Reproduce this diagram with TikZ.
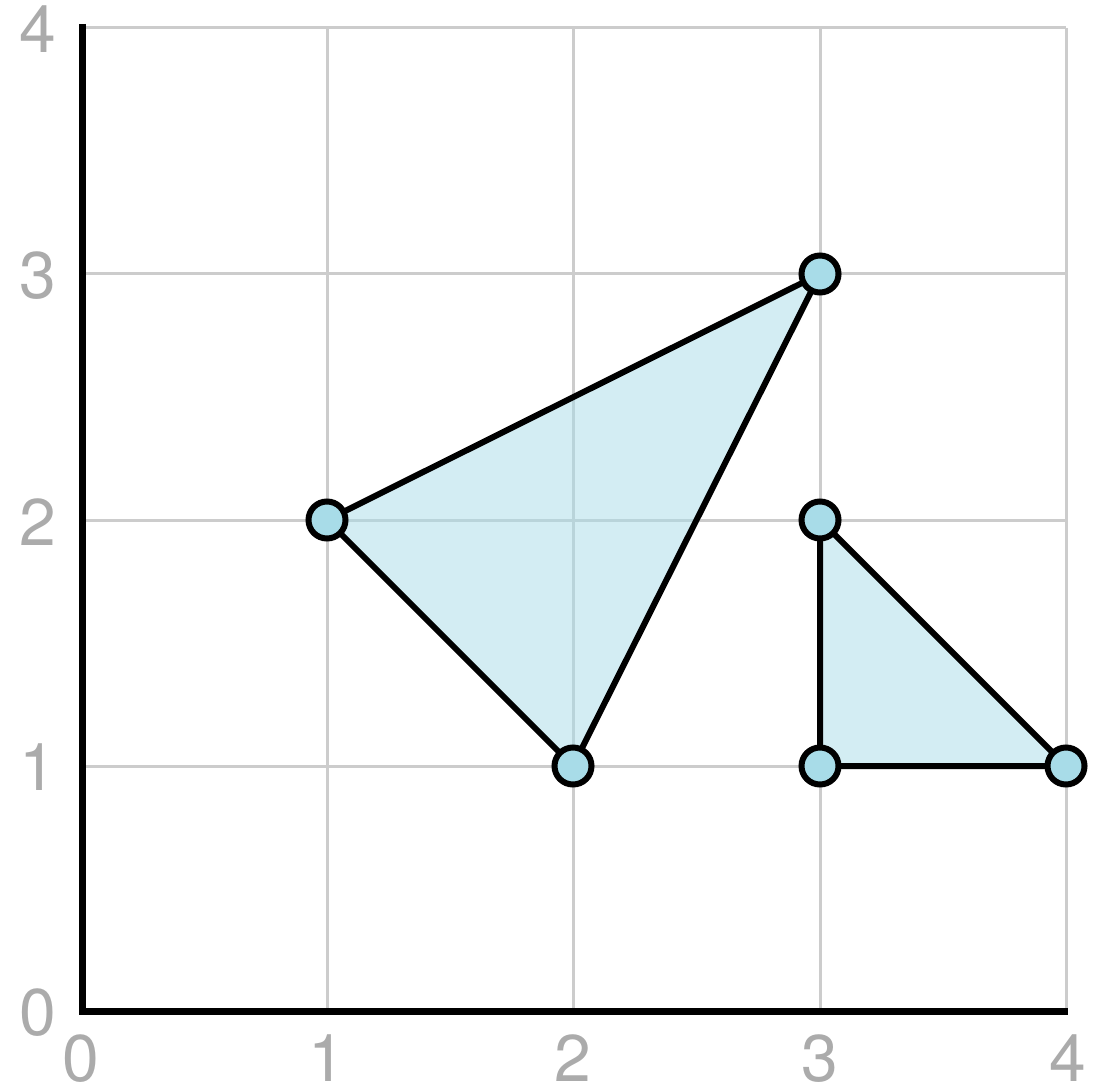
\documentclass[tikz,border=0pt]{standalone}
\usepackage{fontspec}
\setmainfont{TeX Gyre Heros}
\definecolor{gridgray}{HTML}{CCCCCC}
\definecolor{labgray}{HTML}{ABABAB}
\definecolor{vfill}{HTML}{A8DCE8}
\begin{document}
\begin{tikzpicture}[x=0.5pt,y=-0.5pt,
  gridline/.style={draw=gridgray,line width=1.5pt},
  axisline/.style={draw=black,line width=3.5pt},
  edge/.style={draw=black,line width=3pt,line join=round},
  region/.style={fill=vfill,fill opacity=0.5},
  vertex/.style={circle,draw=black,line width=3pt,fill=vfill,minimum size=18.5pt,inner sep=0pt},
  ticklab/.style={text=labgray,font=\fontsize{33}{33}\selectfont,inner sep=0pt,anchor=base}]
\useasboundingbox (0,0) rectangle (1096,1090);
% grid
\foreach \x in {327,573,820,1066} \draw[gridline] (\x,28) -- (\x,1011);
\foreach \y in {28,274,520,766} \draw[gridline] (82,\y) -- (1066,\y);
% axes
\coordinate (ytop) at (82,24);
\coordinate (org) at (82,1011);
\coordinate (xend) at (1068,1011);
\draw[axisline,line join=miter] (ytop) -- (org) -- (xend);
% tick labels
\node[ticklab] (lx0) at (81,1081) {0};
\node[ticklab] (lx1) at (327,1081) {1};
\node[ticklab] (lx2) at (573,1081) {2};
\node[ticklab] (lx3) at (820,1081) {3};
\node[ticklab] (lx4) at (1068,1081) {4};
\node[ticklab] (ly0) at (38,1035) {0};
\node[ticklab] (ly1) at (38,790) {1};
\node[ticklab] (ly2) at (38,545) {2};
\node[ticklab] (ly3) at (38,299) {3};
\node[ticklab] (ly4) at (38,53) {4};
% vertices
\coordinate (a) at (327,520);
\coordinate (b) at (573,766);
\coordinate (c) at (820,274);
\coordinate (d) at (820,520);
\coordinate (e) at (820,766);
\coordinate (f) at (1066,766);
% regions
\fill[region] (a) -- (b) -- (c) -- cycle;
\fill[region] (d) -- (e) -- (f) -- cycle;
\draw[edge] (a) -- (b) -- (c) -- cycle;
\draw[edge] (d) -- (e) -- (f) -- cycle;
% vertex markers
\foreach \p in {a,b,c,d,e,f} \node[vertex] (v\p) at (\p) {};
\end{tikzpicture}
\end{document}
